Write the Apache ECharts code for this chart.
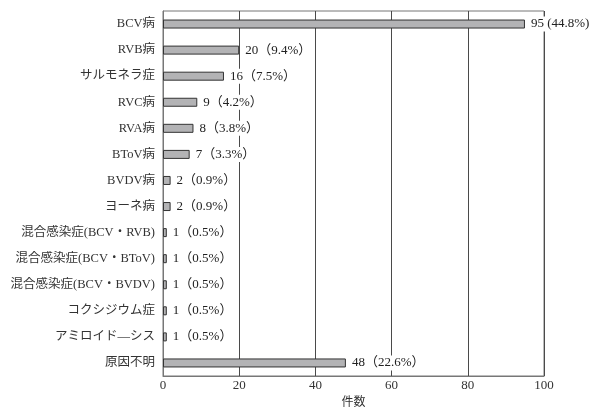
<!DOCTYPE html>
<html>
<head>
<meta charset="utf-8">
<script src="https://cdn.jsdelivr.net/npm/echarts@6/dist/echarts.min.js"></script>
<style>
html, body { margin: 0; padding: 0; background: #fff; }
#main { width: 593px; height: 407px; }
</style>
</head>
<body>
<div id="main"></div>
<script>
// 疾病別件数
var categories = ['BCV病', 'RVB病', 'サルモネラ症', 'RVC病', 'RVA病', 'BToV病', 'BVDV病', 'ヨーネ病',
    '混合感染症(BCV・RVB)', '混合感染症(BCV・BToV)', '混合感染症(BCV・BVDV)', 'コクシジウム症', 'アミロイド―シス', '原因不明'];
var counts = [95, 20, 16, 9, 8, 7, 2, 2, 1, 1, 1, 1, 1, 48];
var percents = ['44.8', '9.4', '7.5', '4.2', '3.8', '3.3', '0.9', '0.9', '0.5', '0.5', '0.5', '0.5', '0.5', '22.6'];
var xTicks = [0, 20, 40, 60, 80, 100];

var fontFam = "'Liberation Serif', 'DejaVu Serif', 'Noto Sans CJK JP', serif";

var myChart = echarts.init(document.getElementById('main'));
var option = {
    backgroundColor: '#fff',
    animation: false,
    grid: {
        left: 163,
        right: 49,
        top: 11,
        bottom: 31,
        outerBoundsMode: 'none',
        show: true,
        borderColor: '#777',
        borderWidth: 1
    },
    xAxis: {
        type: 'value',
        min: xTicks[0],
        max: xTicks[xTicks.length - 1],
        interval: 20,
        name: '件数',
        nameLocation: 'middle',
        nameGap: 19,
        nameTextStyle: { fontFamily: fontFam, fontSize: 12, color: '#333' },
        axisLine: { show: true, lineStyle: { color: '#777' } },
        axisTick: { show: false },
        axisLabel: { fontFamily: fontFam, fontSize: 13, color: '#333', margin: 3 },
        splitLine: { show: true, lineStyle: { color: '#4a4a4a', width: 1 } }
    },
    yAxis: {
        type: 'category',
        inverse: true,
        data: categories,
        axisLine: { show: true, lineStyle: { color: '#777' } },
        axisTick: { show: false },
        axisLabel: { fontFamily: fontFam, fontSize: 12.5, color: '#333', margin: 8 },
        splitLine: { show: false }
    },
    series: [{
        type: 'bar',
        data: counts,
        barWidth: 9,
        itemStyle: {
            color: '#b3b3b5',
            borderColor: '#333',
            borderWidth: 1
        },
        label: {
            show: true,
            position: 'right',
            distance: 4,
            fontFamily: fontFam,
            fontSize: 13,
            color: '#222',
            backgroundColor: '#fff',
            padding: [1, 0, 1, 2],
            formatter: function(p) {
                // 右端の項目は枠内に収めるため半角括弧
                if (p.value > 90) {
                    return p.value + ' (' + percents[p.dataIndex] + '%)';
                }
                return p.value + '（' + percents[p.dataIndex] + '%）';
            }
        }
    }]
};
myChart.setOption(option);
</script>
</body>
</html>
